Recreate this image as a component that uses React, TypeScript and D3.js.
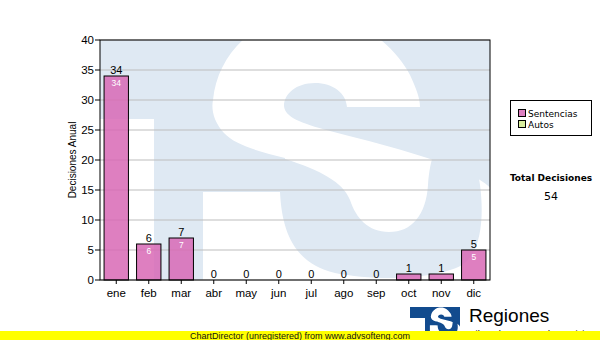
import React from "react";
import * as d3 from "d3";

const months = ["ene", "feb", "mar", "abr", "may", "jun", "jul", "ago", "sep", "oct", "nov", "dic"];
const sentencias = [34, 6, 7, 0, 0, 0, 0, 0, 0, 1, 1, 5];
const autos = [0, 0, 0, 0, 0, 0, 0, 0, 0, 0, 0, 0];
const yTicks = [0, 5, 10, 15, 20, 25, 30, 35, 40];
const legendLabels = ["Sentencias", "Autos"];
const legendColors = ["#dd7fc0", "#d8ee9e"];
const totalLabel = "Total Decisiones";
const totalValue = 54;

const AX = "'Liberation Sans', Arial, sans-serif";
const VD = "'DejaVu Sans', Verdana, sans-serif";

// logo drawn in its own coordinate space
const S_SIL =
  "M203,330 L203,192 L280,192 L285,158 C260,152 235,145 224,133 C214,122 211,110 213,100 C216,70 232,45 258,28 C285,12 320,10 345,18 C375,30 400,55 410,75 C416,88 420,98 420,107 L347,107 C346,93 333,83 315,83 C296,83 284,94 284,106 C285,117 300,123 330,131 C380,144 440,158 480,180 C505,195 515,225 515,255 C515,300 480,325 430,330 Z";
const S_LOW =
  "M270,192 L280,192 C282,232 294,263 335,273 C375,281 435,280 462,265 C482,252 484,215 480,185 C477,160 466,140 450,140 C436,140 430,158 428,185 C426,215 412,232 389,232 C368,232 356,218 350,200 C343,182 320,170 285,159 L270,155 Z";

function Logo({ color }: { color: string }) {
  return (
    <g>
      <rect x={4} y={9} width={500} height={330} fill={color} />
      <rect x={4} y={119} width={150} height={220} fill="#ffffff" />
      <path d={S_SIL} fill="#ffffff" />
      <path d={S_LOW} fill={color} />
    </g>
  );
}

export default function App() {
  const W = 600;
  const H = 340;
  const L = 100, T = 40, R = 490, B = 280;
  const x = d3.scaleBand<string>().domain(months).range([L, R]).paddingInner(0.25).paddingOuter(0.125);
  const y = d3.scaleLinear().domain([0, 40]).range([B, T]);
  const bw = x.bandwidth();

  return (
    <svg width={W} height={H} viewBox={`0 0 ${W} ${H}`} style={{ position: "absolute", left: 0, top: 0, background: "#fff" }}>
      <defs>
        <clipPath id="plotClip">
          <rect x={L} y={T} width={R - L} height={B - T} />
        </clipPath>
        <clipPath id="smallClip">
          <rect x={0} y={0} width={600} height={331} />
        </clipPath>
      </defs>
      <rect x={0} y={0} width={W} height={H} fill="#ffffff" />
      {/* watermark */}
      <g clipPath="url(#plotClip)">
        <Logo color="#dfe9f3" />
      </g>
      {/* grid */}
      {yTicks.map((t) => (
        <line key={"g" + t} x1={L} x2={R} y1={y(t)} y2={y(t)} stroke="#bdbdbd" strokeWidth={1} />
      ))}
      {/* bars */}
      {months.map((m, i) => {
        const v = sentencias[i];
        const a = autos[i];
        const x0 = x(m)!;
        return (
          <g key={"b" + m}>
            {v > 0 && (
              <rect x={x0} y={y(v)} width={bw} height={y(0) - y(v)} fill="#d869b5" fillOpacity={0.85} stroke="#000" strokeWidth={1} />
            )}
            {a > 0 && (
              <rect x={x0} y={y(v + a)} width={bw} height={y(v) - y(v + a)} fill={legendColors[1]} stroke="#000" strokeWidth={1} />
            )}
            {v >= 3 && (
              <text x={x0 + bw / 2} y={y(v) + 10} textAnchor="middle" fontFamily={AX} fontSize={8.5} fill="#ffffff">
                {v}
              </text>
            )}
            <text x={x0 + bw / 2} y={y(v + a) - 2} textAnchor="middle" fontFamily={AX} fontSize={11} fill="#000">
              {v + a}
            </text>
          </g>
        );
      })}
      {/* frame */}
      <rect x={L} y={T} width={R - L} height={B - T} fill="none" stroke="#000" strokeWidth={1} />
      {/* y axis */}
      {yTicks.map((t) => (
        <g key={"y" + t}>
          <line x1={95} x2={L} y1={y(t)} y2={y(t)} stroke="#000" />
          <text x={94} y={y(t) + 4} textAnchor="end" fontFamily={AX} fontSize={11.5} fill="#000">
            {t}
          </text>
        </g>
      ))}
      <text transform={`translate(76,160) rotate(-90)`} textAnchor="middle" fontFamily={AX} fontSize={10} fill="#000">
        Decisiones Anual
      </text>
      {/* x axis */}
      {months.map((m) => (
        <g key={"x" + m}>
          <line x1={x(m)! + bw / 2} x2={x(m)! + bw / 2} y1={B} y2={B + 4} stroke="#000" />
          <text x={x(m)! + bw / 2} y={297} textAnchor="middle" fontFamily={AX} fontSize={11.5} fill="#000">
            {m}
          </text>
        </g>
      ))}
      {/* legend */}
      <rect x={510.5} y={100.5} width={81} height={35} fill="#fff" stroke="#000" />
      {legendLabels.map((lab, i) => (
        <g key={lab}>
          <rect x={518.5} y={109.5 + i * 11} width={7} height={7} fill={legendColors[i]} stroke="#000" />
          <text x={528} y={117 + i * 11} fontFamily={VD} fontSize={9} fill="#000">
            {lab}
          </text>
        </g>
      ))}
      <text x={551} y={181} textAnchor="middle" fontFamily={VD} fontWeight="bold" fontSize={9} fill="#000">
        {totalLabel}
      </text>
      <text x={551} y={200} textAnchor="middle" fontFamily={VD} fontSize={11} fill="#000">
        {totalValue}
      </text>
      {/* bottom logo */}
      <g clipPath="url(#smallClip)">
        <g transform="translate(410,307) scale(0.1) translate(-4,-9)">
          <Logo color="#124b8e" />
        </g>
      </g>
      <text x={469} y={322} fontFamily={AX} fontSize={19} fill="#000">
        Regiones
      </text>
      <text x={467} y={336.5} fontFamily={AX} fontSize={9.5} fill="#000">
        Tribunal Supremo de Justicia
      </text>
      <rect x={0} y={331} width={600} height={9} fill="#ffff00" />
      <text x={300} y={338.5} textAnchor="middle" fontFamily={AX} fontSize={9} fill="#111">
        ChartDirector (unregistered) from www.advsofteng.com
      </text>
    </svg>
  );
}
